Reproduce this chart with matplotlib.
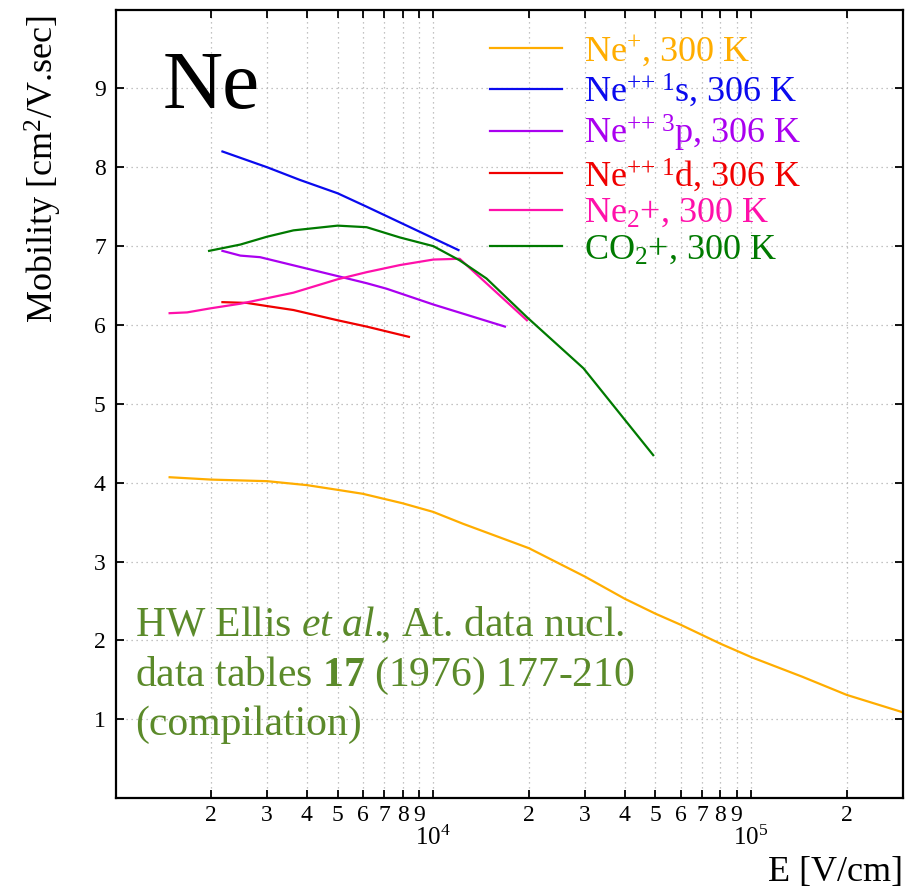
import matplotlib
matplotlib.use("Agg")
import matplotlib.pyplot as plt
from matplotlib.ticker import FixedLocator, FixedFormatter

plt.rcParams["font.family"] = ["Liberation Serif", "DejaVu Serif"]
plt.rcParams["mathtext.fontset"] = "custom"
plt.rcParams["mathtext.rm"] = "Liberation Serif"
plt.rcParams["mathtext.it"] = "Liberation Serif:italic"
plt.rcParams["mathtext.bf"] = "Liberation Serif:bold"

ne_plus_E = [1480, 2000, 3000, 4000, 5000, 6000, 8000, 10000, 12400, 20000,
             30000, 40000, 50000, 60000, 80000, 100000, 145000, 200000, 300000]
ne_plus_mu = [4.07, 4.04, 4.02, 3.97, 3.91, 3.86, 3.74, 3.63, 3.48, 3.17,
              2.81, 2.53, 2.34, 2.20, 1.96, 1.79, 1.54, 1.31, 1.09]

ne_1s_E = [2170, 3000, 3800, 5000, 6170, 12000]
ne_1s_mu = [8.20, 8.00, 7.84, 7.67, 7.50, 6.95]

ne_3p_E = [2170, 2470, 2850, 5000, 6170, 7130, 10000, 16800]
ne_3p_mu = [6.94, 6.88, 6.86, 6.62, 6.53, 6.46, 6.26, 5.98]

ne_1d_E = [2170, 2590, 3000, 3630, 5000, 6170, 8380]
ne_1d_mu = [6.29, 6.28, 6.24, 6.19, 6.06, 5.98, 5.85]

ne2_E = [1480, 1680, 1980, 2470, 3000, 3630, 5000, 6170, 7850, 10000, 12100, 19700]
ne2_mu = [6.15, 6.16, 6.21, 6.27, 6.34, 6.41, 6.58, 6.67, 6.76, 6.83, 6.84, 6.06]

co2_E = [1970, 2470, 3000, 3630, 5000, 6170, 7850, 10000, 12100, 14700, 19700, 29700, 49200]
co2_mu = [6.94, 7.02, 7.12, 7.20, 7.26, 7.24, 7.11, 7.00, 6.82, 6.59, 6.10, 5.45, 4.35]

labels = [r"Ne$^{+}$, 300 K",
          r"Ne$^{{+}{+}\ 1}$s, 306 K",
          r"Ne$^{{+}{+}\ 3}$p, 306 K",
          r"Ne$^{{+}{+}\ 1}$d, 306 K",
          r"Ne$_{2}$+, 300 K",
          r"CO$_{2}$+, 300 K"]
colors = ["#ffad00", "#0a0aee", "#aa00f0", "#f00000", "#ff10aa", "#007a00"]

fig = plt.figure(figsize=(9.19, 8.90), dpi=100)
ax = fig.add_axes([0.1257, 0.1031, 0.8566, 0.8862])

series = [(ne_plus_E, ne_plus_mu), (ne_1s_E, ne_1s_mu), (ne_3p_E, ne_3p_mu),
          (ne_1d_E, ne_1d_mu), (ne2_E, ne2_mu), (co2_E, co2_mu)]
for (E, mu), lab, c in zip(series, labels, colors):
    ax.plot(E, mu, color=c, lw=1.6, label=lab)

ax.set_xscale("log")
ax.set_xlim(1000, 3e5)
ax.set_ylim(0, 10)

# ticks: decades labelled 10^n below, the rest with their leading digit
major = [1e4, 1e5]
minor = [m * 10 ** d for d in (3, 4, 5) for m in range(2, 10) if m * 10 ** d < 3e5]
minor_lab = [str(int(v))[0] for v in minor]
ax.xaxis.set_major_locator(FixedLocator(major))
ax.xaxis.set_major_formatter(FixedFormatter([r"$10^{4}$", r"$10^{5}$"]))
ax.xaxis.set_minor_locator(FixedLocator(minor))
ax.xaxis.set_minor_formatter(FixedFormatter(minor_lab))
ax.set_yticks(range(1, 10))

ax.tick_params(axis="x", which="both", direction="in", top=True, length=6, width=1.3)
ax.tick_params(axis="x", which="major", labelsize=18, pad=20)
ax.tick_params(axis="x", which="minor", labelsize=17, pad=5)
ax.tick_params(axis="y", which="major", direction="in", right=True, length=6,
               width=1.3, labelsize=17, pad=7)
for s in ax.spines.values():
    s.set_linewidth(1.6)

ax.grid(True, which="both", axis="x", color="#b0b0b0", ls=(0, (1, 3)), lw=0.9)
ax.grid(True, which="major", axis="y", color="#b0b0b0", ls=(0, (1, 3)), lw=0.9)

ax.set_xlabel("E [V/cm]", fontsize=26, loc="right", labelpad=4)
ax.set_ylabel(r"Mobility [cm$^{2}$/V.sec]", fontsize=26, loc="bottom")
ax.yaxis.set_label_coords(-0.066, 0.6025)

ax.text(0.06, 0.875, "Ne", fontsize=60, transform=ax.transAxes, va="baseline")

ax.text(0.025, 0.08,
        "HW Ellis $\\mathit{et\\ al.}\\!\\!\\mathrm{,}$ At. data nucl.\n"
        "data tables $\\mathbf{17}$ (1976) 177-210\n"
        "(compilation)",
        fontsize=30, color="#5b8a2a", transform=ax.transAxes,
        va="baseline", linespacing=1.3)

ax.legend(loc="upper left", bbox_to_anchor=(0.4757, 0.97), frameon=False,
          fontsize=26, labelcolor="linecolor", handlelength=2.0,
          handletextpad=0.6, labelspacing=0.08, borderpad=0, borderaxespad=0)

fig.savefig("out.png", dpi=100)
